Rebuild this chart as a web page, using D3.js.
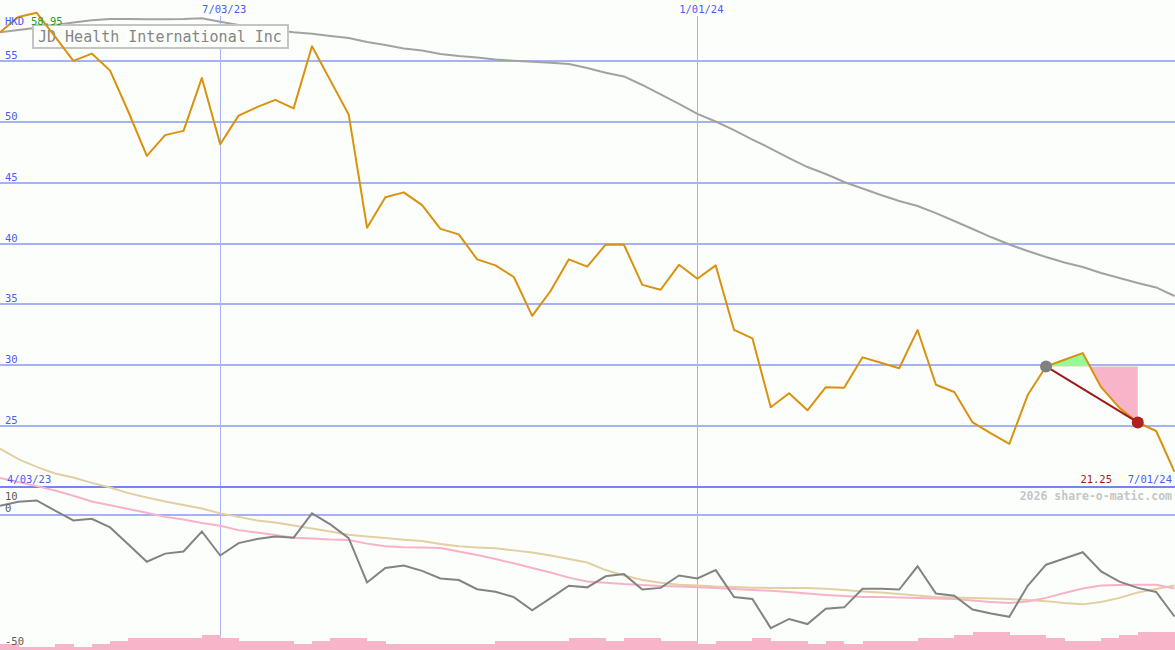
<!DOCTYPE html>
<html><head><meta charset="utf-8">
<script src="https://cdn.jsdelivr.net/npm/d3@7"></script>
<style>html,body{margin:0;padding:0;background:#fcfefc;} svg{display:block;}</style>
</head><body><svg id="c" width="1175" height="650"></svg>
<script>
// ---------- data ----------
const startWeek = "2023-04-10";
const price = [57.35,58.6,58.95,57.0,55.0,55.6,54.2,50.8,47.2,48.9,
  49.25,53.6,48.15,50.5,51.2,51.8,51.1,56.2,53.4,50.6,
  41.3,43.8,44.2,43.15,41.2,40.75,38.7,38.2,37.25,34.05,
  36.1,38.7,38.1,39.9,39.9,36.6,36.2,38.25,37.1,38.2,
  32.9,32.2,26.55,27.7,26.3,28.2,28.15,30.65,30.2,29.75,
  32.9,28.4,27.8,25.3,24.4,23.55,27.55,29.9,30.45,31.0,
  28.2,26.5,25.3,24.6,21.25];
const priceMA = [57.35,57.54,57.72,57.95,58.15,58.33,58.44,58.44,58.42,58.42,
  58.44,58.50,58.22,57.95,57.72,57.54,57.35,57.22,57.04,56.88,
  56.55,56.30,56.02,55.85,55.56,55.40,55.28,55.11,55.01,54.93,
  54.84,54.74,54.41,54.02,53.72,53.02,52.24,51.46,50.64,50.02,
  49.32,48.54,47.80,47.02,46.28,45.71,45.05,44.52,43.98,43.49,
  43.08,42.50,41.85,41.19,40.53,39.92,39.38,38.89,38.44,38.07,
  37.58,37.17,36.76,36.39,35.69];
const momentum = [3.4,4.9,5.4,1.6,-2.0,-1.4,-4.6,-10.9,-17.3,-14.3,
  -13.5,-6.1,-15.0,-10.4,-8.9,-8.0,-8.4,0.6,-3.5,-8.6,
  -25.0,-19.6,-18.7,-20.7,-23.5,-24.1,-27.5,-28.4,-30.4,-35.3,
  -30.8,-26.2,-26.8,-22.7,-21.9,-27.6,-27.0,-22.4,-23.5,-20.4,
  -30.4,-31.1,-41.9,-38.5,-40.4,-34.7,-34.2,-27.3,-27.3,-27.6,
  -19.0,-29.1,-29.9,-35.0,-36.5,-37.7,-26.2,-18.4,-16.1,-13.8,
  -20.9,-24.7,-27.0,-28.5,-37.6];
const momPink = [13.7,12.2,10.7,9.1,7.1,5.0,3.6,2.2,0.8,-0.7,
  -1.7,-3.0,-4.0,-5.6,-6.5,-7.4,-8.4,-8.7,-9.1,-9.3,
  -10.6,-11.6,-11.9,-12.0,-12.2,-13.5,-14.8,-16.3,-17.9,-19.6,
  -21.3,-23.2,-24.6,-25.1,-25.6,-25.9,-26.3,-26.5,-26.8,-27.0,
  -27.4,-27.8,-28.1,-28.5,-29.1,-29.6,-30.0,-30.4,-30.4,-30.6,
  -30.7,-30.9,-31.1,-31.7,-32.2,-32.6,-32.0,-30.7,-28.9,-27.2,
  -26.1,-25.9,-25.8,-25.8,-27.2];
const momTan = [24.6,20.7,17.8,15.4,13.9,11.9,10.2,8.1,6.5,5.0,
  3.7,2.4,0.6,-0.7,-2.0,-2.8,-3.9,-5.0,-6.1,-7.3,
  -8.0,-8.5,-9.2,-9.6,-10.7,-11.6,-12.0,-12.3,-13.1,-13.9,
  -15.0,-16.3,-17.6,-20.4,-22.4,-24.1,-25.1,-25.8,-26.1,-26.5,
  -26.7,-26.9,-27.0,-27.0,-27.0,-27.3,-27.8,-28.3,-28.7,-29.3,
  -29.8,-30.4,-30.6,-30.7,-30.9,-31.1,-31.5,-31.9,-32.6,-33.1,
  -32.2,-30.7,-28.7,-27.4,-26.1];
const volume = [2,1,1,2,1,2,3,4,4,4,
  4,5,4,3,3,3,2,3,4,4,
  3,2,2,2,2,2,2,3,3,3,
  3,4,4,3,4,4,3,3,2,3,
  3,4,3,3,2,3,2,3,3,3,
  4,4,5,6,6,5,5,4,3,3,
  4,5,6,6];
const yTicks = [25,30,35,40,45,50,55];
const lowerTicks = [10,0,-50];
const xTickDates = ["2023-07-03","2024-01-01"];
const xTickLabels = ["7/03/23","1/01/24"];
const title = "JD Health International Inc";
const currency = "HKD";
const startLabel = "4/03/23", endLabel = "7/01/24";
const highLabel = "58.95", lastLabel = "21.25";
const credit = "2026 share-o-matic.com";
const signalFrom = 57, signalTo = 62;

// ---------- scales ----------
const svg = d3.select("#c");
const W = 1175, H = 650;
const parse = d3.utcParse("%Y-%m-%d");
const t0 = parse(startWeek);
const dates = price.map((_, i) => d3.utcDay.offset(t0, 7 * i));
const x = d3.scaleUtc().domain([dates[0], dates[dates.length - 1]]).range([0, 1174.5]);
const y = d3.scaleLinear().domain([20, 60]).range([487, 0]);
const y2 = d3.scaleLinear().domain([-50, 10]).range([650, 488]);
const yv = d3.scaleLinear().domain([0, 6]).range([650, 632]);

const font = "'DejaVu Sans Mono', monospace";
const grid = "#a6b2f2";
const blue = "#4a5cf4";

svg.append("rect").attr("width", W).attr("height", H).attr("fill", "#fcfefc");

// horizontal grid (main)
svg.append("g").attr("shape-rendering", "crispEdges").selectAll("line").data(yTicks).join("line")
  .attr("x1", 0).attr("x2", W).attr("y1", d => Math.round(y(d))).attr("y2", d => Math.round(y(d)))
  .attr("stroke", grid).attr("stroke-width", 2);
// zero line lower panel
svg.append("line").attr("shape-rendering", "crispEdges")
  .attr("x1", 0).attr("x2", W).attr("y1", Math.round(y2(0))).attr("y2", Math.round(y2(0)))
  .attr("stroke", grid).attr("stroke-width", 2);
// vertical date lines
svg.append("g").attr("shape-rendering", "crispEdges").selectAll("line").data(xTickDates).join("line")
  .attr("x1", d => Math.round(x(parse(d))) + 0.5).attr("x2", d => Math.round(x(parse(d))) + 0.5)
  .attr("y1", 16).attr("y2", H)
  .attr("stroke", grid).attr("stroke-width", 1);
// panel separator
svg.append("line").attr("shape-rendering", "crispEdges")
  .attr("x1", 0).attr("x2", W).attr("y1", Math.round(y(20))).attr("y2", Math.round(y(20)))
  .attr("stroke", "#7585ea").attr("stroke-width", 2);

// moving average (main)
const lineMain = d3.line().x((d, i) => x(dates[i])).y(d => y(d));
svg.append("path").attr("d", lineMain(priceMA)).attr("fill", "none")
  .attr("stroke", "#a2a2a2").attr("stroke-width", 2);

// title box
svg.append("rect").attr("x", 33).attr("y", 25).attr("width", 255).attr("height", 23)
  .attr("fill", "#fcfefc").attr("stroke", "#c4c4c4").attr("stroke-width", 2);
svg.append("text").attr("x", 38).attr("y", 42).text(title)
  .attr("font-family", font).attr("font-size", 15).attr("fill", "#858585");

// lower panel lines
const lineLow = d3.line().x((d, i) => x(dates[i])).y(d => y2(d));
svg.append("path").attr("d", lineLow(momTan)).attr("fill", "none")
  .attr("stroke", "#e2cfa2").attr("stroke-width", 2);
svg.append("path").attr("d", lineLow(momPink)).attr("fill", "none")
  .attr("stroke", "#f8b2c8").attr("stroke-width", 2);
svg.append("path").attr("d", lineLow(momentum)).attr("fill", "none")
  .attr("stroke", "#838383").attr("stroke-width", 2);

// volume bars
svg.append("g").attr("shape-rendering", "crispEdges").selectAll("rect").data(volume).join("rect")
  .attr("x", (d, i) => x(dates[i]))
  .attr("width", (d, i) => x(dates[i + 1]) - x(dates[i]) + 0.3)
  .attr("y", d => yv(d)).attr("height", d => yv(0) - yv(d))
  .attr("fill", "#f8b4c8");

// signal fills
const level = price[signalFrom];
const seg = d3.range(signalFrom, signalTo + 1).map(i => ({ d: dates[i], v: price[i] }));
const defs = svg.append("defs");
defs.append("clipPath").attr("id", "above").append("rect")
  .attr("x", 0).attr("y", 0).attr("width", W).attr("height", y(level));
defs.append("clipPath").attr("id", "below").append("rect")
  .attr("x", 0).attr("y", y(level)).attr("width", W).attr("height", 487 - y(level));
const area = d3.area().x(p => x(p.d)).y0(y(level)).y1(p => y(p.v));
svg.append("path").attr("d", area(seg)).attr("fill", "#98f898").attr("clip-path", "url(#above)");
svg.append("path").attr("d", area(seg)).attr("fill", "#f8b4c8").attr("clip-path", "url(#below)");

// price line
svg.append("path").attr("d", lineMain(price)).attr("fill", "none")
  .attr("stroke", "#d8920e").attr("stroke-width", 2).attr("stroke-linejoin", "round");

// signal connector + dots
svg.append("line")
  .attr("x1", x(dates[signalFrom])).attr("y1", y(price[signalFrom]))
  .attr("x2", x(dates[signalTo])).attr("y2", y(price[signalTo]))
  .attr("stroke", "#a01a1a").attr("stroke-width", 2);
svg.append("circle").attr("cx", x(dates[signalFrom])).attr("cy", y(price[signalFrom]))
  .attr("r", 6).attr("fill", "#808080");
svg.append("circle").attr("cx", x(dates[signalTo])).attr("cy", y(price[signalTo]))
  .attr("r", 6).attr("fill", "#b02020");

// labels
const txt = (t, xx, yy, col, anchor = "start", size = 10.5, weight = "normal") =>
  svg.append("text").attr("x", xx).attr("y", yy).text(t)
    .attr("font-family", font).attr("font-size", size).attr("fill", col)
    .attr("text-anchor", anchor).attr("font-weight", weight);

svg.append("g").selectAll("text").data(yTicks).join("text")
  .attr("x", 5).attr("y", d => Math.round(y(d)) - 2).text(d => d)
  .attr("font-family", font).attr("font-size", 10.5).attr("fill", blue);
svg.append("g").selectAll("text").data(lowerTicks).join("text")
  .attr("x", 5).attr("y", d => d === 10 ? 499.5 : d === 0 ? 511.5 : 645).text(d => d)
  .attr("font-family", font).attr("font-size", 10.5).attr("fill", "#5a5a5a");
xTickDates.forEach((d, i) => txt(xTickLabels[i], x(parse(d)) + 4, 13, blue, "middle"));
txt(currency, 5, 25, blue);
txt(highLabel, 31, 25, "#22a022");
txt(startLabel, 7, 483, blue);
txt(endLabel, 1172, 483, blue, "end");
txt(lastLabel, 1112, 483, "#a01c1c", "end");
txt(credit, 1172, 500, "#c6c6c6", "end", 11.5, "bold");
</script></body></html>
